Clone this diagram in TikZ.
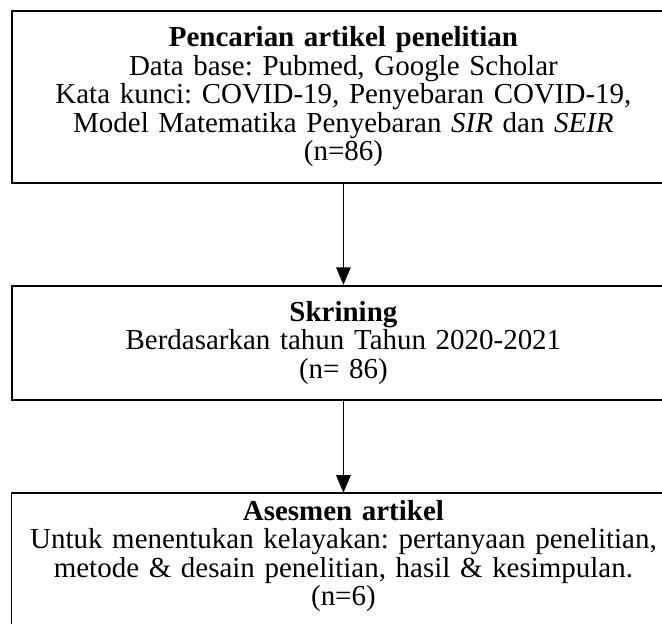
\documentclass[tikz,border=0pt]{standalone}
\usepackage{fontspec}
\setmainfont{Liberation Serif}
\usepackage{tikz}
\usetikzlibrary{arrows.meta}

\begin{document}
\begin{tikzpicture}[box/.style={draw,line width=0.9pt,rectangle,anchor=north,minimum width=320pt,text width=316pt,align=center,inner sep=0pt,font=\fontsize{14pt}{13.8pt}\selectfont\frenchspacing},
                    flow/.style={line width=0.7pt,-{Triangle[length=8.5pt,width=7pt]}}]
                \clip (0pt,0pt) rectangle (320pt,-301.4pt);
                \node[box,minimum height=83.1pt] (search) at (166pt,-4.8pt) {\textbf{Pencarian artikel penelitian}\\Data base: Pubmed, Google Scholar\\Kata kunci: COVID-19, Penyebaran COVID-19,\\Model Matematika Penyebaran \textit{SIR} dan \textit{SEIR}\\(n=86)};
                \node[box,minimum height=55.1pt] (screen) at (166pt,-137.7pt) {\textbf{Skrining}\\Berdasarkan tahun Tahun 2020-2021\\(n= 86)};
                \node[box,draw=none,inner ysep=3pt] (assess) at (166pt,-238.2pt) {\textbf{Asesmen artikel}\\Untuk menentukan kelayakan: pertanyaan penelitian,\\metode \& desain penelitian, hasil \& kesimpulan.\\(n=6)};
                \draw[line width=0.9pt] (assess.north west) rectangle ([yshift=-12pt]assess.south east);
                \draw[flow] (search) -- (screen);
                \draw[flow] (screen) -- (assess);
              \end{tikzpicture}
\end{document}
